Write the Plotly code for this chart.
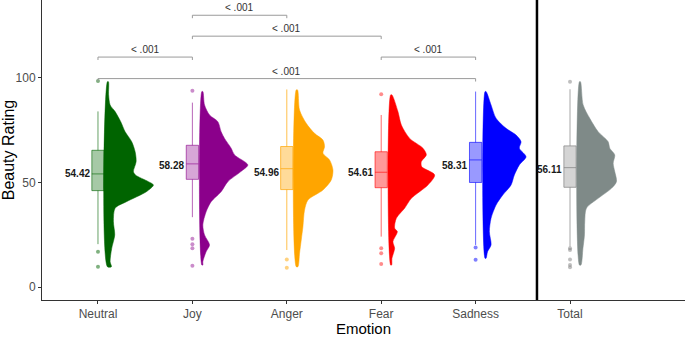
import plotly.graph_objects as go

# ---------------- data ----------------
categories = ["Neutral", "Joy", "Anger", "Fear", "Sadness", "Total"]
means = [54.42, 58.28, 54.96, 54.61, 58.31, 56.11]
q1 = [46.1, 51.5, 46.6, 47.5, 50.0, 47.7]
median = [54.1, 58.9, 56.6, 54.9, 60.8, 57.1]
q3 = [65.4, 67.8, 67.2, 64.7, 69.2, 67.5]
lower_whisker = [20.5, 33.4, 17.7, 24.1, 20.1, 19.3]
upper_whisker = [84.0, 88.2, 94.5, 82.3, 93.5, 94.6]
outliers = [
    [98.5, 16.9, 9.7],
    [93.9, 23.1, 20.4, 18.5, 10.2],
    [13.2, 9.2],
    [92.2, 18.5, 16.1, 11.0],
    [18.9, 13.0],
    [98.2, 18.5, 17.7, 13.2, 10.5, 9.5],
]

# half-violin density profiles (rating, relative density)
violin_rating = [
    [9.7, 12.1, 18.5, 24.9, 31.3, 37.7, 40.8, 45.6, 48.8, 50.4, 53.6, 55.2, 60.0, 64.7, 69.5, 74.3, 79.1, 83.9, 87.1, 92.0, 98.2],
    [10.5, 12.1, 16.9, 20.1, 24.9, 29.7, 36.0, 40.8, 45.6, 50.4, 55.2, 58.4, 63.2, 66.4, 71.1, 74.3, 79.1, 82.3, 87.1, 93.5],
    [9.7, 16.1, 22.5, 28.9, 36.8, 41.6, 46.4, 51.2, 56.0, 60.8, 64.0, 67.1, 70.3, 73.5, 78.3, 84.7, 94.3],
    [10.5, 13.7, 18.5, 21.7, 26.5, 28.1, 32.9, 37.7, 42.4, 48.8, 53.6, 57.6, 60.0, 63.2, 66.4, 71.1, 77.5, 83.9, 91.9],
    [13.7, 16.9, 20.1, 26.5, 32.9, 39.2, 44.0, 48.8, 53.6, 58.4, 62.3, 66.4, 69.5, 72.7, 75.9, 80.7, 87.1, 93.5],
    [10.5, 18.5, 24.9, 31.3, 37.7, 42.4, 47.2, 50.4, 55.2, 59.2, 63.2, 66.4, 69.5, 74.3, 80.7, 87.1, 98.2],
]
violin_density = [
    [4.0, 2.7, 4.3, 7.3, 6.0, 7.7, 19.0, 39.0, 46.0, 41.0, 28.0, 26.0, 28.7, 27.7, 24.3, 17.7, 13.3, 7.7, 2.7, 1.2, 1.0],
    [1.0, 1.0, 4.3, 7.7, 2.7, 1.0, 4.3, 9.3, 19.3, 26.0, 39.0, 46.0, 32.7, 29.3, 22.7, 19.3, 16.0, 7.7, 2.7, 1.0],
    [1.7, 3.3, 5.0, 6.7, 8.3, 11.7, 26.7, 35.0, 36.7, 33.3, 26.7, 28.3, 26.7, 18.3, 10.0, 3.3, 1.3],
    [1.0, 1.3, 4.0, 2.3, 6.7, 4.0, 5.7, 14.0, 20.7, 37.3, 44.0, 31.0, 30.7, 35.7, 32.3, 19.0, 10.7, 7.3, 1.3],
    [1.0, 2.5, 6.0, 4.3, 6.0, 11.0, 17.7, 26.0, 29.3, 34.3, 41.0, 34.3, 36.0, 31.0, 21.0, 11.0, 6.0, 1.0],
    [1.5, 3.5, 5.0, 5.3, 7.0, 18.7, 32.0, 37.0, 35.3, 33.7, 35.3, 30.3, 28.7, 18.7, 10.3, 3.7, 1.0],
]

# significance brackets
bracket_left = ["Joy", "Joy", "Neutral", "Fear", "Neutral"]
bracket_right = ["Anger", "Fear", "Joy", "Sadness", "Sadness"]
bracket_y = [130.0, 120.0, 110.0, 110.0, 99.7]
bracket_label = ["< .001", "< .001", "< .001", "< .001", "< .001"]

# ---------------- styling ----------------
colors = ["#006400", "#8B008B", "#FFA500", "#FF0000", "#0000FF", "#7F8A88"]
box_fill = ["rgba(0,100,0,0.35)", "rgba(139,0,139,0.35)", "rgba(255,165,0,0.4)",
            "rgba(255,0,0,0.4)", "rgba(0,0,255,0.4)", "rgba(160,160,160,0.45)"]
box_line = ["rgba(0,100,0,0.6)", "rgba(139,0,139,0.6)", "rgba(255,165,0,0.7)",
            "rgba(255,0,0,0.6)", "rgba(0,0,255,0.6)", "rgba(128,128,128,0.7)"]
pt_color = ["rgba(0,100,0,0.5)", "rgba(139,0,139,0.45)", "rgba(255,165,0,0.5)",
            "rgba(255,0,0,0.45)", "rgba(0,0,255,0.5)", "rgba(128,128,128,0.5)"]

FONT = "Arial, Liberation Sans, sans-serif"
pos = {c: i + 1 for i, c in enumerate(categories)}
PX_PER_UNIT = 94.4
BOX_W = 0.13
VIOLIN_OFF = 0.10

fig = go.Figure()

for i, cat in enumerate(categories):
    x0 = pos[cat]
    # half violin
    base = x0 + VIOLIN_OFF
    ys = violin_rating[i]
    ws = [d / PX_PER_UNIT for d in violin_density[i]]
    px_ = [base] + [base + w for w in ws] + [base, base]
    py_ = [ys[0]] + ys + [ys[-1], ys[0]]
    fig.add_trace(go.Scatter(x=px_, y=py_, mode="lines", fill="toself",
                             fillcolor=colors[i], line=dict(width=0.5, color=colors[i], shape="spline", smoothing=0.8),
                             hoverinfo="skip", showlegend=False))
    # box
    fig.add_trace(go.Box(x=[x0], q1=[q1[i]], median=[median[i]], q3=[q3[i]],
                         lowerfence=[lower_whisker[i]], upperfence=[upper_whisker[i]],
                         width=BOX_W, whiskerwidth=0, fillcolor=box_fill[i],
                         line=dict(color=box_line[i], width=1), boxpoints=False,
                         showlegend=False, hoverinfo="skip"))
    # outliers
    fig.add_trace(go.Scatter(x=[x0] * len(outliers[i]), y=outliers[i], mode="markers",
                             marker=dict(size=4, color=pt_color[i]), showlegend=False, hoverinfo="skip"))
    # mean label
    fig.add_annotation(x=x0 - BOX_W / 2, y=means[i], text="<b>%.2f</b>" % means[i],
                       showarrow=False, xanchor="right", yanchor="middle",
                       font=dict(family=FONT, size=10, color="#1a1a1a"))

# brackets
for l, r, yb, lab in zip(bracket_left, bracket_right, bracket_y, bracket_label):
    xl, xr = pos[l], pos[r]
    fig.add_trace(go.Scatter(x=[xl, xl, xr, xr], y=[yb - 1.4, yb, yb, yb - 1.4], mode="lines",
                             line=dict(color="#9a9a9a", width=1), showlegend=False, hoverinfo="skip"))
    fig.add_annotation(x=(xl + xr) / 2, y=yb, text=lab, showarrow=False, yanchor="bottom",
                       yshift=0, font=dict(family=FONT, size=10, color="#333333"))

# separator line between Sadness and Total
fig.add_shape(type="line", x0=5.65, x1=5.65, y0=0, y1=1, xref="x", yref="paper",
              line=dict(color="black", width=2.5))

fig.update_layout(
    width=685, height=337,
    margin=dict(l=42, r=0, t=0, b=37),
    plot_bgcolor="white", paper_bgcolor="white",
    font=dict(family=FONT),
    xaxis=dict(range=[0.407, 7.218], tickmode="array", tickvals=list(range(1, 7)),
               ticktext=categories, showgrid=False, zeroline=False,
               showline=True, linecolor="#333333", linewidth=1,
               ticks="outside", ticklen=3, tickcolor="#333333",
               tickfont=dict(size=12, color="#4d4d4d"),
               title=dict(text="Emotion", font=dict(size=15, color="black"), standoff=4)),
    yaxis=dict(range=[-6.22, 137.3], tickvals=[0, 50, 100], showgrid=False, zeroline=False,
               showline=True, linecolor="#333333", linewidth=1,
               ticks="outside", ticklen=3, tickcolor="#333333",
               tickfont=dict(size=12, color="#4d4d4d"),
               title=dict(text="Beauty Rating", font=dict(size=16, color="black"), standoff=4)),
)

fig.write_html("out.html")
